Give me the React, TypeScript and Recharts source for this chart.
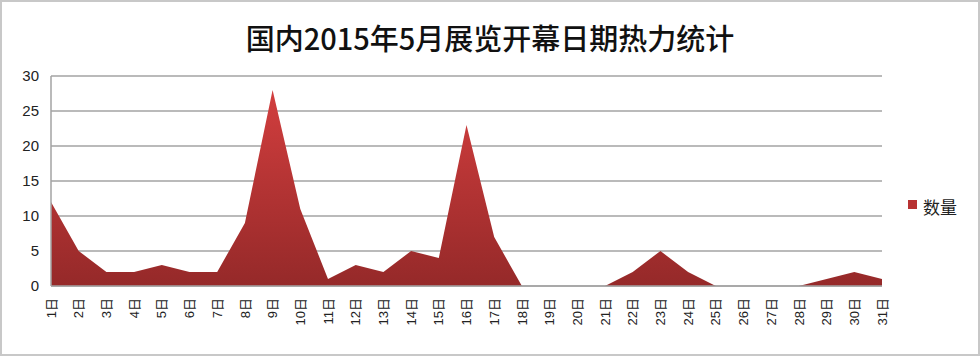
import { AreaChart, Area, XAxis, YAxis, CartesianGrid, Legend } from "recharts";

const days = [
  "1日", "2日", "3日", "4日", "5日", "6日", "7日", "8日", "9日", "10日",
  "11日", "12日", "13日", "14日", "15日", "16日", "17日", "18日", "19日", "20日",
  "21日", "22日", "23日", "24日", "25日", "26日", "27日", "28日", "29日", "30日", "31日",
];
const counts = [12, 5, 2, 2, 3, 2, 2, 9, 28, 11, 1, 3, 2, 5, 4, 23, 7, 0, 0, 0, 0, 2, 5, 2, 0, 0, 0, 0, 1, 2, 1];
const yTicks = [0, 5, 10, 15, 20, 25, 30];

const data = days.map((d, i) => ({ day: d, 数量: counts[i] }));

const FONT = "'Liberation Sans', 'Noto Sans CJK SC', sans-serif";

function DayTick(props: any) {
  const { x, y, payload } = props;
  return (
    <g transform={`translate(${x},${y})`}>
      <text
        transform="rotate(-90)"
        textAnchor="end"
        dy="0.36em"
        fontSize={13}
        fill="#222"
        fontFamily={FONT}
      >
        {payload.value}
      </text>
    </g>
  );
}

function LegendBox() {
  return (
    <div style={{ display: "flex", alignItems: "center", paddingLeft: 6, fontFamily: FONT }}>
      <span style={{ width: 9, height: 9, background: "#b83232", display: "inline-block", marginRight: 6, marginTop: -4 }} />
      <span style={{ fontSize: 17, color: "#222" }}>数量</span>
    </div>
  );
}

export default function App() {
  return (
    <div
      style={{
        position: "fixed",
        left: 0,
        top: 0,
        width: 980,
        height: 356,
        boxSizing: "border-box",
        border: "2px solid #c8c8c8",
        background: "#fff",
      }}
    >
      <div
        style={{
          position: "absolute",
          top: 16,
          left: 0,
          width: 976,
          textAlign: "center",
          fontFamily: "'Noto Sans CJK SC', sans-serif",
          fontSize: 29,
          fontWeight: 500,
          color: "#111",
          lineHeight: "38px",
        }}
      >
        国内2015年5月展览开幕日期热力统计
      </div>
      <AreaChart
        width={976}
        height={352}
        data={data}
        margin={{ top: 74, right: 20, left: 0, bottom: 0 }}
      >
        <defs>
          <linearGradient id="redFill" x1="0" y1="0" x2="0" y2="1">
            <stop offset="0%" stopColor="#d23e3e" />
            <stop offset="100%" stopColor="#952929" />
          </linearGradient>
        </defs>
        <CartesianGrid vertical={false} stroke="#a3a3a3" strokeWidth={1.5} />
        <XAxis
          dataKey="day"
          scale="point"
          padding={{ left: 0, right: 0 }}
          interval={0}
          height={68}
          tickLine={false}
          tickSize={0}
          tickMargin={12}
          axisLine={{ stroke: "#a3a3a3", strokeWidth: 1.5 }}
          tick={<DayTick />}
        />
        <YAxis
          domain={[0, 30]}
          ticks={yTicks}
          width={49}
          tickLine={false}
          tickSize={0}
          tickMargin={12}
          axisLine={{ stroke: "#a3a3a3", strokeWidth: 1.5 }}
          tick={{ fontSize: 15, fill: "#222", fontFamily: FONT }}
        />
        <Legend
          layout="vertical"
          align="right"
          verticalAlign="middle"
          wrapperStyle={{ width: 76, right: 0, top: 192, height: 24 }}
          content={<LegendBox />}
        />
        <Area
          type="linear"
          dataKey="数量"
          stroke="none"
          fill="url(#redFill)"
          fillOpacity={1}
          isAnimationActive={false}
          dot={false}
          activeDot={false}
        />
      </AreaChart>
    </div>
  );
}
